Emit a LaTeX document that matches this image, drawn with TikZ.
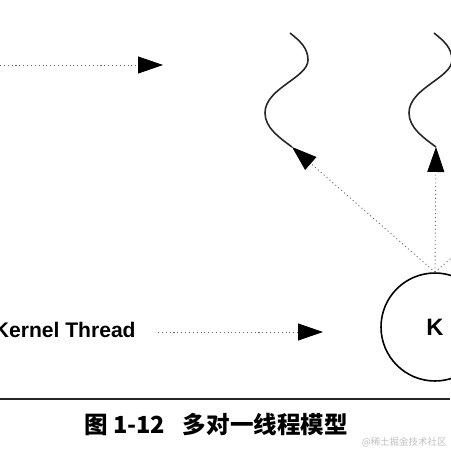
\documentclass[tikz,border=0pt]{standalone}
\usepackage{fontspec}
\setmainfont{Liberation Sans}
\newfontfamily\cjk{Noto Sans CJK SC}
\usetikzlibrary{arrows.meta}

\begin{document}
\begin{tikzpicture}
		[x=0.02cm, y=-0.02cm,
		every node/.style={inner sep=0pt},
		punkte/.style={draw=black!60, line width=0.5pt, dash pattern=on 0.6pt off 1.6pt},
		pfeil/.style={punkte, -{Triangle[length=0.5cm,width=0.34cm,black]}},
		faden/.style={draw=black!85, line width=0.9pt},
		schrift/.style={font=\bfseries\fontsize{12}{14}\selectfont},
		]

		\useasboundingbox (0,0) rectangle (450,450);

		% obere Reihe: Pfeil zu den Fäden
		\coordinate (links) at (0,65);
		\coordinate (mitte) at (163,65);
		\draw[pfeil] (links) -- (mitte);

		\foreach \dx/\name in {0/f1, 144/f2}
			\draw[faden] (290+\dx,33) .. controls (300+\dx,41) and (308+\dx,48) .. (308+\dx,60)
				.. controls (308+\dx,78) and (265+\dx,88) .. (265+\dx,113)
				.. controls (265+\dx,128) and (280+\dx,138) .. (292+\dx,147) coordinate (\name);

		% untere Reihe
		\node[schrift, anchor=base east] (kt) at (136,337) {Kernel Thread};
		\node[schrift, font=\bfseries\fontsize{13.5}{15}\selectfont, circle, draw, line width=0.9pt, minimum size=2.16cm] (K) at (435,327) {K};

		\coordinate (kstart) at (158,332);
		\coordinate (kziel) at (323,332);
		\draw[pfeil] (kstart) -- (kziel);

		\coordinate (rand) at (578,147);
		\draw[pfeil] (K.north) -- (f1);
		\draw[pfeil] (K.north) -- (f2);
		\draw[punkte] (K.north) -- (rand);

		% Unterschrift
		\draw[line width=1.1pt, black!85] (0,399) -- (450,399);
		\node[anchor=base west, font=\cjk\bfseries\fontsize{13.4}{16}\selectfont] (titel) at (84,433) {图 1-12\hspace{0.75em}多对一线程模型};
		\node[anchor=base east, text=black!25, font=\cjk\fontsize{5.4}{6}\selectfont] (marke) at (447,445) {@稀土掘金技术社区};
	\end{tikzpicture}
\end{document}
